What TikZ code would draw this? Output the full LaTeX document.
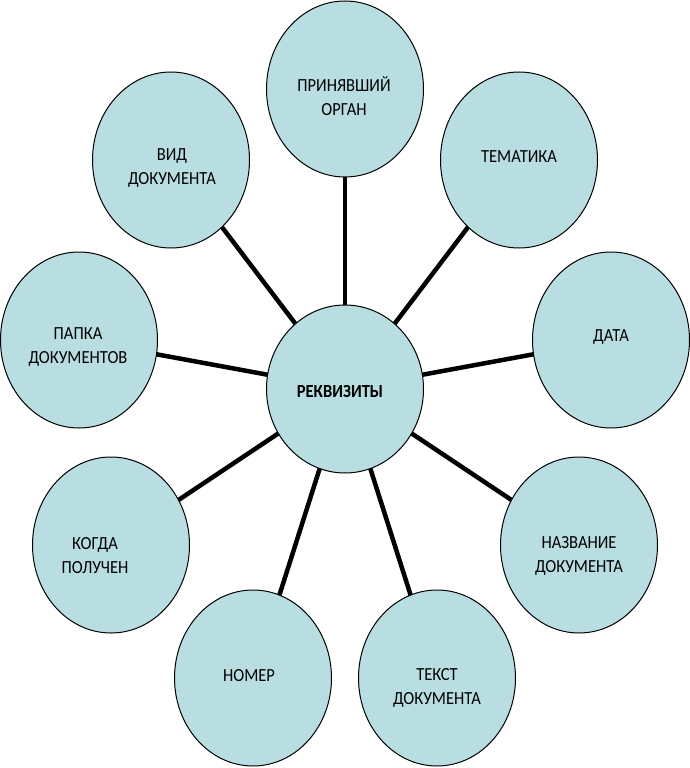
\documentclass[tikz,border=0pt]{standalone}
\usepackage{fontspec}
\setmainfont{Carlito}
\usetikzlibrary{shapes.geometric}
\definecolor{bubble}{RGB}{185,222,226}
\newcommand{\tl}[1]{\scalebox{1}[1.12]{#1}}
\tikzset{
  bub/.style={ellipse, draw=black, line width=1pt, fill=bubble, minimum width=157pt, minimum height=176pt, inner sep=0pt},
  hub/.style={ellipse, draw=black, line width=1pt, fill=bubble, minimum width=157pt, minimum height=168pt, inner sep=0pt},
  lbl/.style={align=center, font=\fontsize{16.5}{24}\selectfont, inner sep=0pt},
  conn/.style={line width=4.5pt, black}
}
\begin{document}
\begin{tikzpicture}[x=1pt,y=-1pt]
\useasboundingbox (0,0) rectangle (690,768);
% connectors first (underneath)
\coordinate (pc) at (345,389);
\coordinate (p1) at (345,89);
\coordinate (p2) at (519,160);
\coordinate (p3) at (611,340);
\coordinate (p4) at (579,545);
\coordinate (p5) at (437,678);
\coordinate (p6) at (253,678);
\coordinate (p7) at (111,545);
\coordinate (p8) at (79,340);
\coordinate (p9) at (171,160);
\foreach \i in {1,...,9} {\draw[conn] (pc) -- (p\i);}
% bubbles
\node[hub] (c) at (pc) {};
\node[bub] (o1) at (p1) {};
\node[bub] (o2) at (p2) {};
\node[bub] (o3) at (p3) {};
\node[bub] (o4) at (p4) {};
\node[bub] (o5) at (p5) {};
\node[bub] (o6) at (p6) {};
\node[bub] (o7) at (p7) {};
\node[bub] (o8) at (p8) {};
\node[bub] (o9) at (p9) {};
% labels
\node[lbl, font=\fontsize{16.5}{24}\selectfont\bfseries] (tc) at (340,391) {\tl{РЕКВИЗИТЫ}};
\node[lbl] (t1) at (344,96) {\tl{ПРИНЯВШИЙ}\\\tl{ОРГАН}};
\node[lbl] (t2) at (519,157) {\tl{ТЕМАТИКА}};
\node[lbl] (t3) at (611,337) {\tl{ДАТА}};
\node[lbl] (t4) at (579,556) {\tl{НАЗВАНИЕ}\\\tl{ДОКУМЕНТА}};
\node[lbl] (t5) at (437,688) {\tl{ТЕКСТ}\\\tl{ДОКУМЕНТА}};
\node[lbl] (t6) at (249,676) {\tl{НОМЕР}};
\node[lbl] (t7) at (95,556) {\tl{КОГДА}\\\tl{ПОЛУЧЕН}};
\node[lbl] (t8) at (78,347) {\tl{ПАПКА}\\\tl{ДОКУМЕНТОВ}};
\node[lbl] (t9) at (172,168) {\tl{ВИД}\\\tl{ДОКУМЕНТА}};
\end{tikzpicture}
\end{document}
